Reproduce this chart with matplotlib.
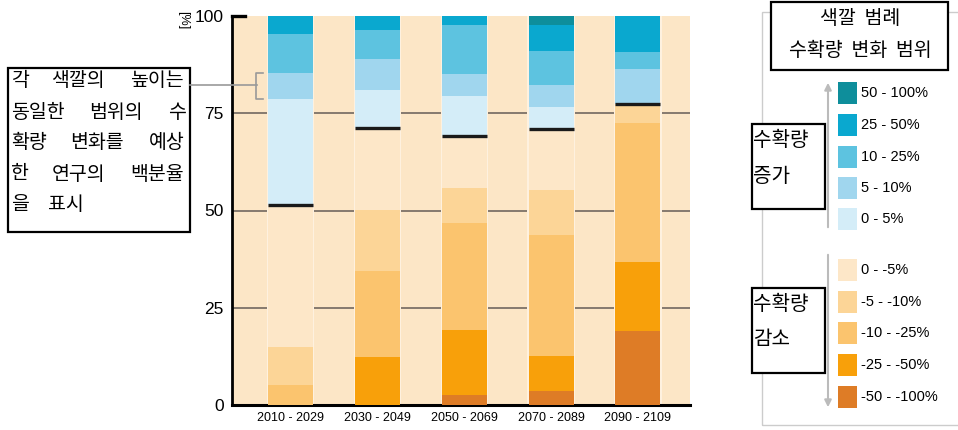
import matplotlib
matplotlib.use("Agg")
import matplotlib.pyplot as plt
from matplotlib.patches import Rectangle, FancyArrowPatch
import numpy as np

plt.rcParams['font.family'] = ['Noto Sans CJK KR', 'DejaVu Sans']
NUM_FONT = ['Liberation Sans', 'DejaVu Sans']

# periods on the x axis
periods = ['2010 - 2029', '2030 - 2049', '2050 - 2069', '2070 - 2089', '2090 - 2109']

# yield-change ranges, bottom of the stack first
ranges = ['-50 - -100%', '-25 - -50%', '-10 - -25%', '-5 - -10%', '0 - -5%',
          '0 - 5%', '5 - 10%', '10 - 25%', '25 - 50%', '50 - 100%']
colors = ['#DE7C26', '#F8A00A', '#FBC46E', '#FCD597', '#FDE7C8',
          '#D4EDF8', '#A0D6EE', '#5DC3E0', '#0AA8CF', '#0E8E9B']

# share of studies (%) per range, one list per period
p2010 = [0.0, 0.0, 5.1, 9.9, 36.5, 27.1, 6.8, 10.1, 4.5, 0.0]
p2030 = [0.0, 12.4, 22.1, 15.6, 21.2, 9.7, 7.9, 7.5, 3.6, 0.0]
p2050 = [2.6, 16.7, 27.6, 8.8, 13.5, 10.2, 5.7, 12.6, 2.3, 0.0]
p2070 = [3.7, 9.0, 31.0, 11.6, 15.7, 5.5, 5.8, 8.7, 6.7, 2.3]
p2090 = [18.9, 17.9, 35.8, 4.7, 0.0, 0.0, 9.1, 4.3, 9.3, 0.0]
shares = np.array([p2010, p2030, p2050, p2070, p2090])

W, H = 958, 430
fig = plt.figure(figsize=(W / 100, H / 100), dpi=100)
fig.patch.set_facecolor('white')


def fx(px):
    return px / W


def fy(py):
    return 1 - py / H


ax = fig.add_axes([fx(232), fy(405), fx(690) - fx(232), fy(16) - fy(405)])
ax.set_facecolor('#FCE6C6')
x = np.arange(len(periods))
bw = 0.52

# gridlines behind bars
for g in [25, 50, 75]:
    ax.axhline(g, color='#857A6E', lw=1.4, zorder=1)

# thin light rim around bars
ax.bar(x, 100, width=bw + 0.025, color='#FEF1DF', zorder=2, linewidth=0)

bottom = np.zeros(len(periods))
for i, r in enumerate(ranges):
    ax.bar(x, shares[:, i], width=bw, bottom=bottom, color=colors[i],
           linewidth=0, zorder=3)
    bottom += shares[:, i]

# black line between decrease and increase
split = shares[:, :5].sum(axis=1)
ax.hlines(split, x - bw / 2, x + bw / 2, color='#1A1A1A', lw=2.4, zorder=4)

ax.set_xlim(-0.675, 4.6)
ax.set_ylim(0, 100)
for s in ['top', 'right']:
    ax.spines[s].set_visible(False)
ax.spines['left'].set_linewidth(2)
ax.spines['bottom'].set_linewidth(2.2)
ax.set_yticks([0, 25, 50, 75, 100])
ax.set_yticklabels(['0', '25', '50', '75', '100'], family=NUM_FONT, fontsize=12.5)
ax.tick_params(axis='y', length=0, pad=6)
ax.set_xticks(x)
ax.set_xticklabels(periods, family=NUM_FONT, fontsize=9)
ax.tick_params(axis='x', length=0, pad=5)
ax.plot([-0.675, -0.52], [100, 100], color='black', lw=2.4, clip_on=False, zorder=5)

fig.text(fx(183), fy(20), '[%]', rotation=-90, ha='center', va='center',
         fontsize=9, family=NUM_FONT)

# bracket on the first bar's 5-10% segment
lo = shares[0, :6].sum()
hi = lo + shares[0, 6]
bx = -0.4
ax.plot([bx + 0.08, bx, bx, bx + 0.08], [hi, hi, lo, lo], color='#999999', lw=1.2,
        clip_on=False, zorder=5)
fig.add_artist(plt.Line2D([fx(190), fx(257)], [fy(85), fy(85)], color='#999999', lw=1.2))

# explanation box, words spread across each line
fig.add_artist(Rectangle((fx(8), fy(232)), fx(190) - fx(8), fy(68) - fy(232),
                         transform=fig.transFigure, fill=False, ec='black', lw=1.6))
note = [['각', '색깔의', '높이는'], ['동일한', '범위의', '수'], ['확량', '변화를', '예상'],
        ['한', '연구의', '백분율'], ['을', '표시']]
fs = 14
gw = fs * 100 / 72 * 0.98
for k, words in enumerate(note):
    n = sum(len(w) for w in words)
    if k < len(note) - 1:
        gap = (176 - n * gw) / (len(words) - 1)
    else:
        gap = 18
    xp = 11
    for w in words:
        fig.text(fx(xp), fy(81 + 31 * k), w, ha='left', va='center', fontsize=fs)
        xp += len(w) * gw + gap

# legend panel
fig.add_artist(Rectangle((fx(762), fy(425)), fx(960) - fx(762), fy(12) - fy(425),
                         transform=fig.transFigure, fill=False, ec='#CCCCCC', lw=1))
fig.add_artist(Rectangle((fx(771), fy(70)), fx(948) - fx(771), fy(2) - fy(70),
                         transform=fig.transFigure, facecolor='white', ec='black', lw=1.6))
fig.text(fx(860), fy(19), '색깔  범례', ha='center', va='center', fontsize=14)
fig.text(fx(860), fy(51), '수확량  변화  범위', ha='center', va='center', fontsize=14)

sw_y = [397, 365, 333, 302, 270, 219, 188, 157, 125, 93]
for i, r in enumerate(ranges):
    fig.add_artist(Rectangle((fx(838), fy(sw_y[i] + 11)), fx(19), 22 / H,
                             transform=fig.transFigure, color=colors[i], lw=0))
    fig.text(fx(861), fy(sw_y[i]), r, ha='left', va='center', fontsize=10.5,
             family=NUM_FONT)

fig.add_artist(FancyArrowPatch((fx(828), fy(230)), (fx(828), fy(80)),
                               transform=fig.transFigure, arrowstyle='-|>,head_length=4,head_width=2',
                               color='#BBBBBB', lw=1.5))
fig.add_artist(FancyArrowPatch((fx(828), fy(252)), (fx(828), fy(410)),
                               transform=fig.transFigure, arrowstyle='-|>,head_length=4,head_width=2',
                               color='#BBBBBB', lw=1.5))

for top, word in [(124, '증가'), (288, '감소')]:
    fig.add_artist(Rectangle((fx(752), fy(top + 85)), fx(825) - fx(752), 85 / H,
                             transform=fig.transFigure, facecolor='white', ec='black', lw=1.6))
    fig.text(fx(753), fy(top + 17), '수확량', ha='left', va='center', fontsize=14.5)
    fig.text(fx(753), fy(top + 52), word, ha='left', va='center', fontsize=14.5)

fig.savefig('out.png', dpi=100)
